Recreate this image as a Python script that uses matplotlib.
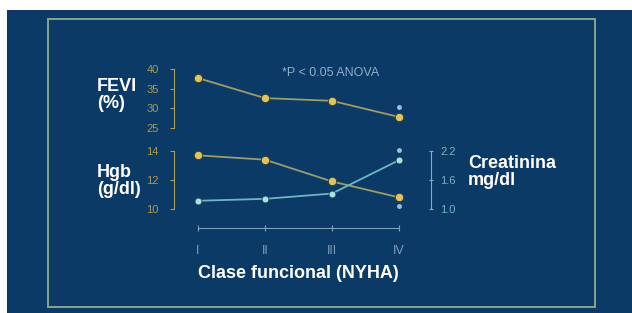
import matplotlib
matplotlib.use("Agg")
import matplotlib.pyplot as plt
from matplotlib.patches import Rectangle

plt.rcParams['font.family'] = ['Liberation Sans', 'DejaVu Sans']

# data
clases = ["I", "II", "III", "IV"]
fevi = [37.7, 32.6, 31.9, 27.8]
hgb = [13.7, 13.4, 11.9, 10.8]
creat = [1.17, 1.21, 1.32, 2.01]
# significance marks at class IV
sig_fevi = [30.3]
sig_hgb = [10.2]
sig_creat = [2.22]

W, H = 632, 313
navy = "#0b3a66"
olive = "#a99d4e"
line_olive = "#9c9c6c"
cyan = "#6fb6c4"
lab_blue = "#7f9fb8"

fig = plt.figure(figsize=(W / 100, H / 100), dpi=100, facecolor="white")

def fx(px):
    return px / W

def fy(py):
    return 1 - py / H

# background and frame
fig.patches.append(Rectangle((fx(7), 0), 1 - fx(7), fy(10), transform=fig.transFigure,
                             facecolor=navy, edgecolor="none", zorder=-2))
fig.patches.append(Rectangle((fx(48), fy(307)), fx(595 - 48), (307 - 19) / H,
                             transform=fig.transFigure, facecolor="none",
                             edgecolor="#86a58e", lw=1.4, zorder=-1))

x = list(range(len(clases)))
x0, x1 = -24 / 67, 233 / 67  # spine positions relative to class I

# FEVI axes
ax1 = fig.add_axes([fx(174), fy(128), fx(431 - 174), 59 / H])
ax1.set_xlim(x0, x1)
ax1.set_ylim(25, 40)
ax1.plot(x, fevi, color=line_olive, lw=1.3, zorder=2)
ax1.plot(x, fevi, "o", ms=6, color="#dcc462", mec="#3a3a20", mew=0.6, zorder=3)
ax1.plot([3], sig_fevi, "o", ms=2.5, color="#9fbfe0", zorder=3, clip_on=False)

# Hgb axes
ax2 = fig.add_axes([fx(174), fy(209), fx(431 - 174), 58 / H])
ax2.set_xlim(x0, x1)
ax2.set_ylim(10, 14)
ax2.plot(x, hgb, color=line_olive, lw=1.3, zorder=2)
ax2.plot(x, hgb, "o", ms=6, color="#dcc462", mec="#3a3a20", mew=0.6, zorder=3)
ax2.plot([3], sig_hgb, "o", ms=2.5, color="#9fbfe0", zorder=3, clip_on=False)

# Creatinina on the right
ax3 = ax2.twinx()
ax3.set_ylim(1.0, 2.2)
ax3.plot(x, creat, color=cyan, lw=1.3, zorder=2)
ax3.plot(x, creat, "o", ms=5, color="#a8e0e4", mec="#1a3a50", mew=0.6, zorder=3)
ax3.plot([3], sig_creat, "o", ms=2.5, color="#9fbfe0", zorder=3, clip_on=False)

for a in (ax1, ax2, ax3):
    a.patch.set_visible(False)
    for s in a.spines.values():
        s.set_visible(False)
    a.tick_params(axis="x", bottom=False, labelbottom=False)

ax1.spines["left"].set_visible(True)
ax1.spines["left"].set_color(olive)
ax1.spines["left"].set_bounds(25, 40)
ax1.set_yticks([25, 30, 35, 40])
ax1.tick_params(axis="y", colors=olive, labelsize=8, length=3, width=0.8, pad=8)

ax2.spines["left"].set_visible(True)
ax2.spines["left"].set_color(olive)
ax2.spines["left"].set_bounds(10, 14)
ax2.set_yticks([10, 12, 14])
ax2.tick_params(axis="y", colors=olive, labelsize=8, length=3, width=0.8, pad=8)

ax3.spines["right"].set_visible(True)
ax3.spines["right"].set_color(cyan)
ax3.spines["right"].set_bounds(1.0, 2.2)
ax3.set_yticks([1.0, 1.6, 2.2])
ax3.set_yticklabels(["1.0", "1.6", "2.2"])
ax3.tick_params(axis="y", colors=cyan, labelsize=8, length=3, width=0.8, pad=5,
                direction="inout")

# class axis below
ax2.spines["bottom"].set_visible(True)
ax2.spines["bottom"].set_position(("outward", 14))
ax2.spines["bottom"].set_bounds(0, 3)
ax2.spines["bottom"].set_color(lab_blue)
ax2.set_xticks(x)
ax2.set_xticklabels(clases)
ax2.tick_params(axis="x", bottom=True, labelbottom=True, colors=lab_blue,
                direction="inout", length=4, width=0.8, labelsize=9, pad=10)

# labels
bold = dict(color="white", fontweight="bold", fontsize=13, va="center", ha="left",
            linespacing=1.0)
fig.text(fx(97), fy(95), "FEVI\n(%)", **bold)
fig.text(fx(97), fy(181), "Hgb\n(g/dl)", **bold)
fig.text(fx(468), fy(172), "Creatinina\nmg/dl", **bold)
fig.text(fx(298), fy(273), "Clase funcional (NYHA)", color="white", fontweight="bold",
         fontsize=13, ha="center", va="center")
fig.text(fx(331), fy(73), "*P < 0.05 ANOVA", color="#8fb0c8", fontsize=9,
         ha="center", va="center")

fig.savefig("out.png", dpi=100, facecolor=fig.get_facecolor())
